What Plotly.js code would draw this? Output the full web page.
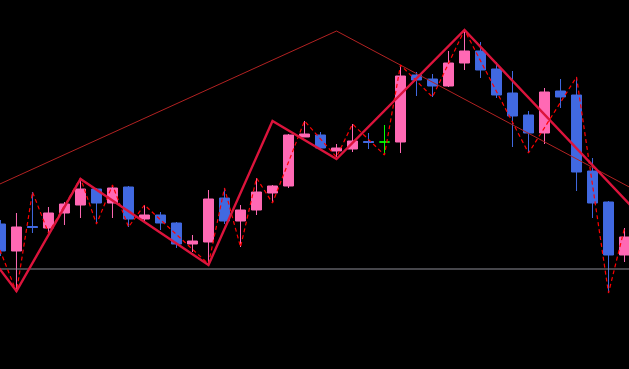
<!DOCTYPE html>
<html>
<head>
<meta charset="utf-8">
<script src="https://cdn.plot.ly/plotly-3.0.1.min.js"></script>
<style>
  html, body { margin: 0; padding: 0; background: #000; overflow: hidden; }
  #chart { width: 629px; height: 369px; }
</style>
</head>
<body>
<div id="chart"></div>
<script>
// ---- data (bar index and price values) ----
const barIndex = [0,1,2,3,4,5,6,7,8,9,10,11,12,13,14,15,16,17,18,19,20,21,22,23,24,25,26,27,28,29,30,31,32,33,34,35,36,37,38,39];
const openP  = [145,118,142.5,141,156,164,180,166,182,150,154,146,125,127,171,148,159,176,183,232,234,218,220,227.5,227,227,294,290,283,306,318,300,276,254,236,278,274,198,167,114];
const highP  = [149,156,177,162,167,191,181,184,183,164,157,147,134,179,181,164,191,184,235,248,237,225,245,236,244,304,297,295,318,339,327,307,298,258,281,290,292,211,168,141];
const lowP   = [113,77,136,136,144,151,145,151,142,146,139,121,117,106,145,122,154,166,181,232,219,212,217,220,214,216,273,272,282,299,291,271,222,216,225,261,178,151,76,107];
const closeP = [118,142,141.5,156,165,180,166,181,150,154,146,125,128,170,148,159,177,183,234,235,221,221,228,226.5,227,293,289,283,306,318,299,274,253,236,277,272,197,166,114,132];
const neutralDoji = [24];   // drawn in green

const zigzagX = [-1,1,5,13,17,21,29,40];
const zigzagY = [120,78,190,104,248,210,339,153];

const dashX = [-1,1,2,3,5,6,7,8,9,13,14,15,16,17,19,21,22,24,25,27,29,33,36,38,39];
const dashY = [158,77,177,136,191,145,184,142,164,105,181,122,191,166,248,212,245,214,304,272,339,216,292,76,141];

const trendUpX = [-1,21];
const trendUpY = [178,338];
const trendDownX = [21,40];
const trendDownY = [338,176];

const levelY = 100;

// ---- split candles ----
function pick(arr, keep) { return arr.filter((_, i) => keep(barIndex[i])); }
const isMain = b => neutralDoji.indexOf(b) < 0;
const isDoji = b => neutralDoji.indexOf(b) >= 0;

const PINK = '#ff69b4', BLUE = '#4169e1', GREEN = '#00ff00';

const traces = [
  { type: 'scatter', mode: 'lines', x: [-2, 41], y: [levelY, levelY],
    line: { color: '#8c8c96', width: 1 }, hoverinfo: 'skip', showlegend: false },
  { type: 'candlestick', x: pick(barIndex, isMain),
    open: pick(openP, isMain), high: pick(highP, isMain), low: pick(lowP, isMain), close: pick(closeP, isMain),
    increasing: { line: { color: PINK, width: 1 }, fillcolor: PINK },
    decreasing: { line: { color: BLUE, width: 1 }, fillcolor: BLUE },
    whiskerwidth: 0, hoverinfo: 'skip', showlegend: false },
  { type: 'candlestick', x: pick(barIndex, isDoji),
    open: pick(openP, isDoji), high: pick(highP, isDoji), low: pick(lowP, isDoji), close: pick(closeP, isDoji),
    increasing: { line: { color: GREEN, width: 1 }, fillcolor: GREEN },
    decreasing: { line: { color: GREEN, width: 1 }, fillcolor: GREEN },
    whiskerwidth: 0, hoverinfo: 'skip', showlegend: false },
  { type: 'scatter', mode: 'lines', x: trendUpX, y: trendUpY,
    line: { color: '#b22222', width: 1 }, hoverinfo: 'skip', showlegend: false },
  { type: 'scatter', mode: 'lines', x: trendDownX, y: trendDownY,
    line: { color: '#b22222', width: 1 }, hoverinfo: 'skip', showlegend: false },
  { type: 'scatter', mode: 'lines', x: dashX, y: dashY,
    line: { color: '#ff0000', width: 1.2, dash: '4px,3px' }, hoverinfo: 'skip', showlegend: false },
  { type: 'scatter', mode: 'lines', x: zigzagX, y: zigzagY,
    line: { color: '#dc143c', width: 2.4 }, hoverinfo: 'skip', showlegend: false }
];

const layout = {
  width: 629, height: 369,
  margin: { l: 0, r: 0, t: 0, b: 0, pad: 0 },
  paper_bgcolor: '#000000', plot_bgcolor: '#000000',
  showlegend: false,
  boxgap: 0.2,
  boxgroupgap: 0.22,
  xaxis: { range: [-0.03, 39.28], visible: false, showgrid: false, zeroline: false, rangeslider: { visible: false }, fixedrange: true },
  yaxis: { range: [0, 369], visible: false, showgrid: false, zeroline: false, fixedrange: true },
  hovermode: false
};

Plotly.newPlot('chart', traces, layout, { staticPlot: true, displayModeBar: false });
</script>
</body>
</html>
